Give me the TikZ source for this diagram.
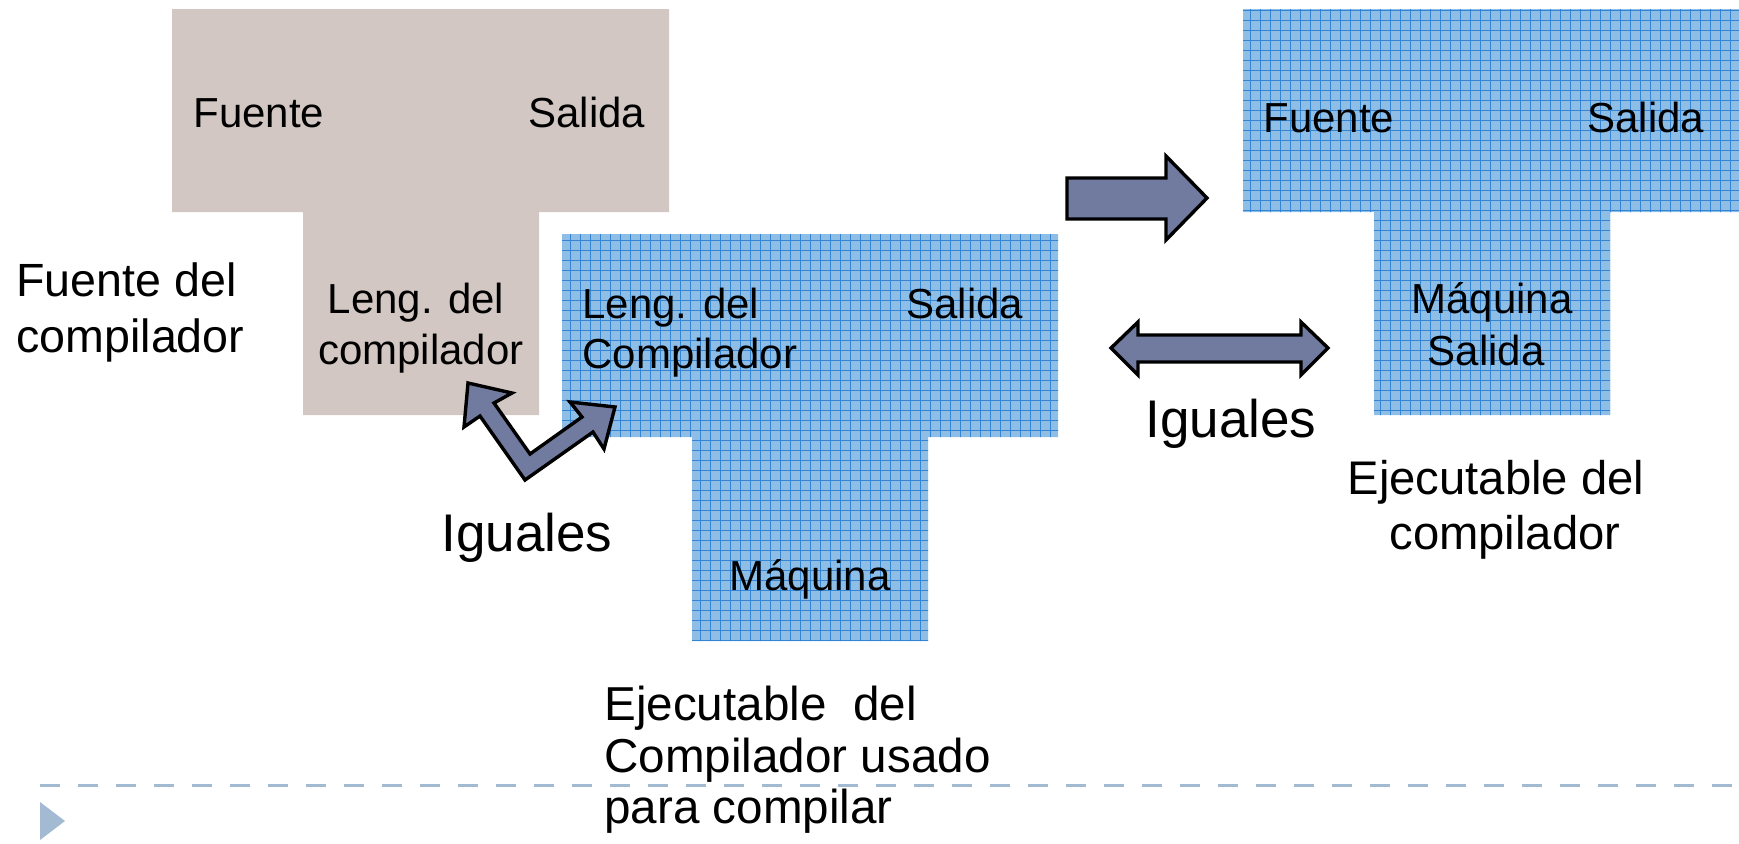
\documentclass[tikz,border=0pt]{standalone}
\usepackage{fontspec}
\setmainfont{Liberation Sans}
\definecolor{greybox}{RGB}{211,199,195}
\definecolor{bluefill}{RGB}{142,189,230}
\definecolor{blueline}{RGB}{52,132,212}
\definecolor{arrowfill}{RGB}{113,123,160}
\definecolor{dashcol}{RGB}{163,186,211}
\tikzset{
  boxtxt/.style={inner sep=0pt, font=\fontsize{21pt}{25pt}\selectfont},
  sidetxt/.style={inner sep=0pt, font=\fontsize{23.3pt}{27pt}\selectfont},
  igualtxt/.style={inner sep=0pt, font=\fontsize{26.5pt}{30pt}\selectfont},
  exetxt/.style={inner sep=0pt, font=\fontsize{23.8pt}{27pt}\selectfont},
  exetxtb/.style={inner sep=0pt, font=\fontsize{23.6pt}{27pt}\selectfont},
  blockarrow/.style={draw=black, fill=arrowfill, line width=1.7pt, line join=miter},
  gridlines/.style={draw=blueline, line width=0.45pt, step=5pt},
}
\begin{document}
\begin{tikzpicture}[x=0.5pt,y=-0.5pt]
\useasboundingbox (0,0) rectangle (1739,843);

% grey T (source of compiler)
\fill[greybox] (172,9) -- (669,9) -- (669,212) -- (539,212) -- (539,415) -- (303,415) -- (303,212) -- (172,212) -- cycle;

% middle blue T
\fill[bluefill] (562,234) -- (1058,234) -- (1058,437) -- (928,437) -- (928,641) -- (692,641) -- (692,437) -- (562,437) -- cycle;
\begin{scope}
\clip (562,234) -- (1058,234) -- (1058,437) -- (928,437) -- (928,641) -- (692,641) -- (692,437) -- (562,437) -- cycle;
\draw[gridlines] (560,230) grid (1060,645);
\end{scope}

% right blue T
\fill[bluefill] (1243,9) -- (1739,9) -- (1739,212) -- (1610,212) -- (1610,415) -- (1374,415) -- (1374,212) -- (1243,212) -- cycle;
\begin{scope}
\clip (1243,9) -- (1739,9) -- (1739,212) -- (1610,212) -- (1610,415) -- (1374,415) -- (1374,212) -- (1243,212) -- cycle;
\draw[gridlines] (1240,5) grid (1740,420);
\end{scope}

% block arrows
\draw[blockarrow] (1067,178) -- (1166,178) -- (1166,156) -- (1207,198) -- (1166,240) -- (1166,219) -- (1067,219) -- cycle;
\draw[blockarrow] (1111,348) -- (1138,322) -- (1138,335) -- (1301,335) -- (1301,322) -- (1328,348) -- (1301,375) -- (1301,362) -- (1138,362) -- (1138,375) -- cycle;
\draw[blockarrow] (468,383) -- (512,393) -- (494,403) -- (530,454) -- (582,417) -- (570,402) -- (615,407) -- (604,449) -- (593,432) -- (525,480) -- (480,416) -- (464,427) -- cycle;

% dashed rule and bullet
\draw[dashcol, line width=1.5pt, dash pattern=on 10pt off 9pt] (40,785) -- (1739,785);
\fill[dashcol] (40,802) -- (65,821) -- (40,840) -- cycle;

% grey T texts
\node[boxtxt, anchor=base west] (gF) at (193,127) {Fuente};
\node[boxtxt, anchor=base west] (gS) at (528,127) {Salida};
\node[boxtxt, anchor=base] (gL1) at (416,313) {Leng. del};
\node[boxtxt, anchor=base] (gL2) at (421,364) {compilador};

% middle blue T texts
\node[boxtxt, anchor=base west] (mL1) at (582,318) {Leng. del};
\node[boxtxt, anchor=base west] (mL2) at (582,368) {Compilador};
\node[boxtxt, anchor=base west] (mS) at (906,318) {Salida};
\node[boxtxt, anchor=base] (mM) at (810,590) {Máquina};

% right blue T texts
\node[boxtxt, anchor=base west] (rF) at (1263,132) {Fuente};
\node[boxtxt, anchor=base west] (rS) at (1587,132) {Salida};
\node[boxtxt, anchor=base] (rM1) at (1492,313) {Máquina};
\node[boxtxt, anchor=base] (rM2) at (1486,365) {Salida};

% side labels
\node[sidetxt, anchor=base west] (fd1) at (16,296) {Fuente del};
\node[sidetxt, anchor=base west] (fd2) at (16,352) {compilador};
\node[igualtxt, anchor=base west] (ig1) at (441,551) {Iguales};
\node[igualtxt, anchor=base west] (ig2) at (1145,437) {Iguales};
\node[exetxtb, anchor=base] (ed1) at (1496,494) {Ejecutable del};
\node[exetxtb, anchor=base] (ed2) at (1505,549) {compilador};
\node[exetxt, anchor=base west] (eu1) at (604,720) {Ejecutable\ \ del};
\node[exetxt, anchor=base west] (eu2) at (604,772) {Compilador usado};
\node[exetxt, anchor=base west] (eu3) at (604,823) {para compilar};
\end{tikzpicture}
\end{document}
